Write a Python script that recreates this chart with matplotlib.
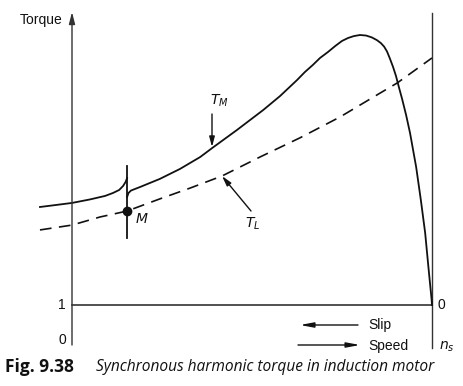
import matplotlib
matplotlib.use("Agg")
import matplotlib.pyplot as plt

# ---- data (speed as fraction of n_s, torque as fraction of peak) ----
tm_left_speed = [-0.089, -0.047, 0.0, 0.05, 0.092, 0.114, 0.131, 0.142, 0.149, 0.153]
tm_left_torque = [0.363, 0.370, 0.378, 0.391, 0.404, 0.415, 0.426, 0.441, 0.456, 0.470]

tm_right_speed = [0.153, 0.157, 0.164, 0.189, 0.244, 0.300, 0.356, 0.389, 0.458, 0.531,
                  0.578, 0.625, 0.647, 0.669, 0.689, 0.711, 0.731, 0.750, 0.767, 0.783,
                  0.800, 0.817, 0.833, 0.847, 0.858, 0.867, 0.875, 0.883, 0.892, 0.900,
                  0.908, 0.917, 0.928, 0.939, 0.956, 0.969, 0.981, 0.990, 0.999, 1.0]
tm_right_torque = [0.400, 0.415, 0.424, 0.437, 0.467, 0.504, 0.548, 0.581, 0.648, 0.722,
                   0.774, 0.833, 0.863, 0.889, 0.915, 0.937, 0.959, 0.978, 0.989, 0.996,
                   1.000, 0.998, 0.991, 0.981, 0.970, 0.957, 0.939, 0.913, 0.881, 0.848,
                   0.807, 0.763, 0.704, 0.637, 0.511, 0.389, 0.267, 0.141, 0.019, 0.0]

tl_speed = [-0.089, 0.0, 0.078, 0.153, 0.244, 0.328, 0.417, 0.522, 0.633, 0.744, 0.856, 0.903, 1.0]
tl_torque = [0.278, 0.296, 0.326, 0.348, 0.393, 0.433, 0.478, 0.548, 0.619, 0.696, 0.785, 0.822, 0.915]

m_speed = 0.153
m_torque = 0.348
m_line = [0.248, 0.515]

# ---- figure ----
W, H = 464, 386
fig = plt.figure(figsize=(W / 100, H / 100), dpi=100)
ax = fig.add_axes([0, 0, 1, 1])
X0, XS = 72, 360.0
Y0, YS = 305, 270.0
ax.set_xlim((0 - X0) / XS, (W - X0) / XS)
ax.set_ylim((Y0 - H) / YS, (Y0 - 0) / YS)
ax.axis("off")


def P(px, py):
    return ((px - X0) / XS, (Y0 - py) / YS)


ink = "#111111"
axc = "#333333"

# axes lines
ax.annotate("", xy=P(72, 12), xytext=P(72, 345),
            arrowprops=dict(arrowstyle="-|>,head_length=0.7,head_width=0.18", color=axc, lw=1.0,
                            shrinkA=0, shrinkB=0))
ax.plot(*zip(P(72, 305), P(432, 305)), color=axc, lw=1.2)
ax.plot(*zip(P(432, 13), P(432, 348)), color=axc, lw=1.0)

# curves
ax.plot(tm_left_speed, tm_left_torque, color=ink, lw=1.3, solid_joinstyle="round")
ax.plot(tm_right_speed, tm_right_torque, color=ink, lw=1.3, solid_joinstyle="round")
ax.plot(tl_speed, tl_torque, color=ink, lw=1.2, dashes=(7, 4.5))

# M point
ax.plot([m_speed, m_speed], m_line, color=ink, lw=1.3)
ax.plot([m_speed], [m_torque], "o", color=ink, ms=6)

# annotations
ax.annotate("", xy=P(212, 147), xytext=P(212, 114),
            arrowprops=dict(arrowstyle="-|>,head_length=0.6,head_width=0.16", color=ink, lw=1.0,
                            shrinkA=0, shrinkB=0))
ax.text(*P(210, 101), "$T_M$", fontsize=10, ha="left", va="center", color=ink)
ax.annotate("", xy=P(222, 176), xytext=P(251, 211),
            arrowprops=dict(arrowstyle="-|>,head_length=0.6,head_width=0.16", color=ink, lw=1.0,
                            shrinkA=0, shrinkB=0))
ax.text(*P(245, 224), "$T_L$", fontsize=10, ha="left", va="center", color=ink)
ax.text(*P(136, 219), "M", fontsize=10, style="italic", ha="left", va="center", color=ink)

# texts
ax.text(*P(20, 20), "Torque", fontsize=10, family="Liberation Sans", ha="left", va="center", color=ink)
ax.text(*P(62, 305), "1", fontsize=10, family="Liberation Sans", ha="center", va="center", color=ink)
ax.text(*P(62, 340), "0", fontsize=10, family="Liberation Sans", ha="center", va="center", color=ink)
ax.text(*P(437, 305), "0", fontsize=10, family="Liberation Sans", ha="left", va="center", color=ink)
ax.text(*P(439, 347), "$n_s$", fontsize=10, ha="left", va="center", color=ink)

ax.annotate("", xy=P(300, 325), xytext=P(358, 325),
            arrowprops=dict(arrowstyle="-|>,head_length=0.8,head_width=0.15", color=ink, lw=1.0,
                            shrinkA=0, shrinkB=0))
ax.text(*P(368, 325), "Slip", fontsize=10, family="Liberation Sans", ha="left", va="center", color=ink)
ax.annotate("", xy=P(360, 345), xytext=P(298, 345),
            arrowprops=dict(arrowstyle="-|>,head_length=0.8,head_width=0.15", color=ink, lw=1.0,
                            shrinkA=0, shrinkB=0))
ax.text(*P(368, 346), "Speed", fontsize=10, family="Liberation Sans", ha="left", va="center", color=ink)

# caption
ax.text(*P(5, 367), "Fig. 9.38", fontsize=12.5, family="Open Sans", weight="bold",
        ha="left", va="center", color=ink)
ax.text(*P(96, 367), "Synchronous harmonic torque in induction motor", fontsize=11.2,
        family="Open Sans", style="italic", ha="left", va="center", color=ink)

fig.savefig("out.png", dpi=100)
